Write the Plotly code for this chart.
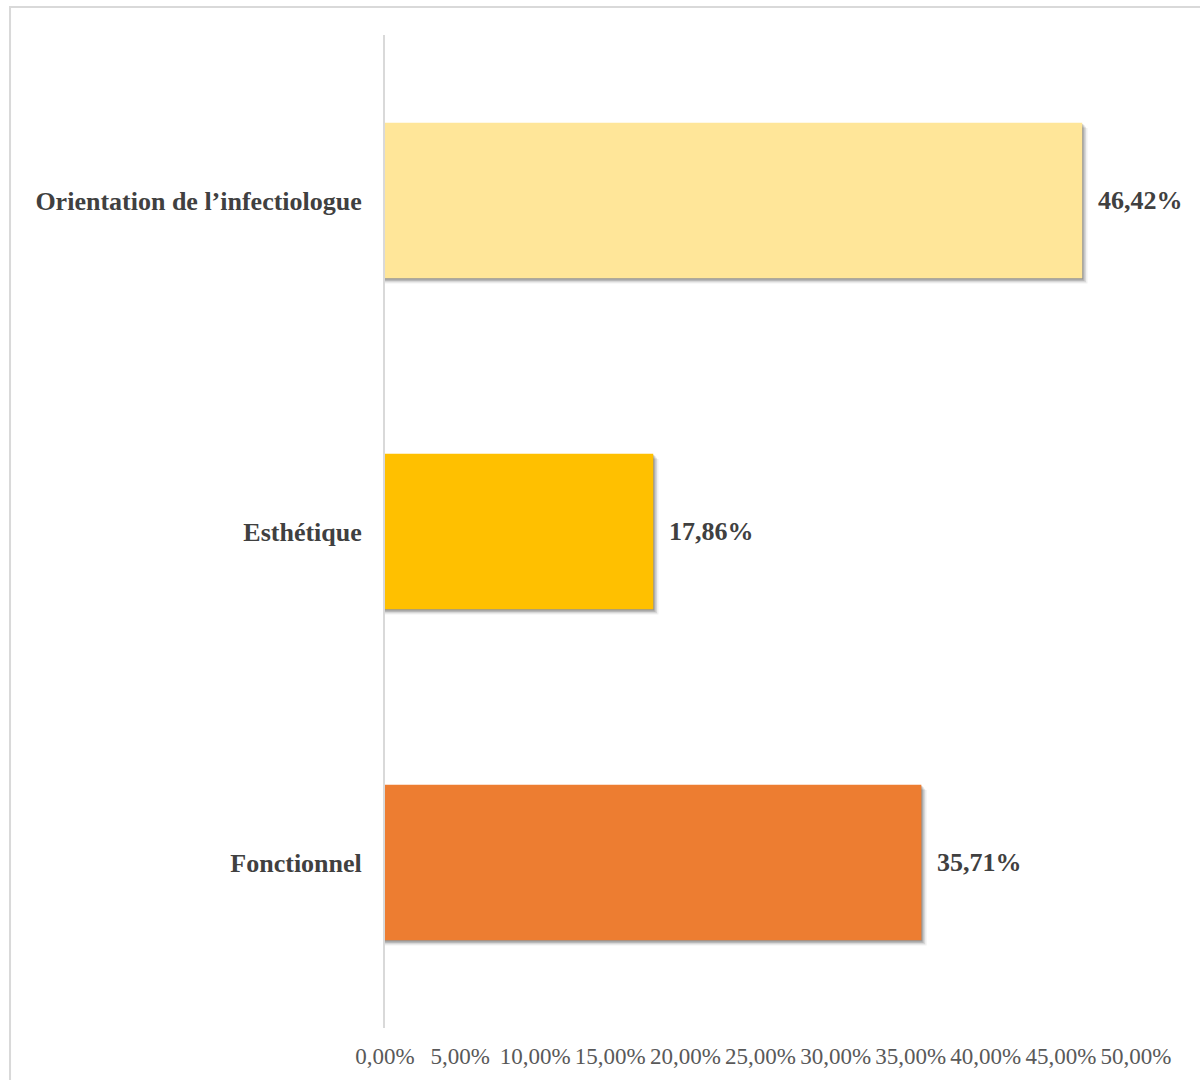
import plotly.graph_objects as go

# Data (listed bottom to top, as Plotly stacks categories upward)
categories = ["Fonctionnel", "Esthétique", "Orientation de l’infectiologue"]
values = [35.71, 17.86, 46.42]
value_labels = ["35,71%", "17,86%", "46,42%"]
bar_colors = ["#ED7D31", "#FFC000", "#FFE699"]
tick_values = [0, 5, 10, 15, 20, 25, 30, 35, 40, 45, 50]
tick_labels = ["0,00%", "5,00%", "10,00%", "15,00%", "20,00%", "25,00%",
               "30,00%", "35,00%", "40,00%", "45,00%", "50,00%"]

BAR_W = 0.47
FONT = "Liberation Serif"

fig = go.Figure()

# Soft drop shadow: a few translucent layers slightly offset down and right
shadow_layers = [(0.016, 0.35, 0.06), (0.012, 0.25, 0.10),
                 (0.008, 0.15, 0.14), (0.004, 0.07, 0.18)]
for dy, dx, alpha in shadow_layers:
    fig.add_trace(go.Bar(
        y=categories,
        x=[v + dx for v in values],
        orientation="h",
        width=BAR_W,
        offset=-BAR_W / 2 - dy,
        marker=dict(color=f"rgba(0,0,0,{alpha})", line=dict(width=0)),
        hoverinfo="skip",
        showlegend=False,
    ))

fig.add_trace(go.Bar(
    y=categories,
    x=values,
    orientation="h",
    width=BAR_W,
    offset=-BAR_W / 2,
    marker=dict(color=bar_colors, line=dict(width=0)),
    showlegend=False,
))

# Value labels to the right of each bar
for cat, v, lab in zip(categories, values, value_labels):
    fig.add_annotation(
        x=v, y=cat, text=f"<b>{lab}</b>", showarrow=False,
        xanchor="left", yanchor="middle", xshift=14,
        font=dict(family=FONT, size=26, color="#404040"),
    )

# Outer chart frame
fig.add_shape(
    type="rect", xref="paper", yref="paper",
    x0=-0.4993, x1=1.2, y0=-0.2, y1=1.0282,
    line=dict(color="#d9d9d9", width=2), fillcolor="rgba(0,0,0,0)",
    layer="below",
)

fig.update_layout(
    width=1200, height=1080,
    margin=dict(l=385, r=64, t=35, b=52),
    paper_bgcolor="white", plot_bgcolor="white",
    barmode="overlay",
    font=dict(family=FONT),
    xaxis=dict(
        range=[0, 50],
        tickvals=tick_values, ticktext=tick_labels,
        showgrid=False, zeroline=False, showline=False,
        tickfont=dict(family=FONT, size=23, color="#595959"),
        ticklabelstandoff=12,
        fixedrange=True,
    ),
    yaxis=dict(
        categoryorder="array", categoryarray=categories,
        range=[-0.5, 2.5],
        showgrid=False, zeroline=False,
        showline=True, linecolor="#d9d9d9", linewidth=2,
        tickfont=dict(family=FONT, size=26, color="#404040", weight="bold"),
        ticklabelstandoff=16,
        fixedrange=True,
    ),
)

fig.write_html("out.html")
